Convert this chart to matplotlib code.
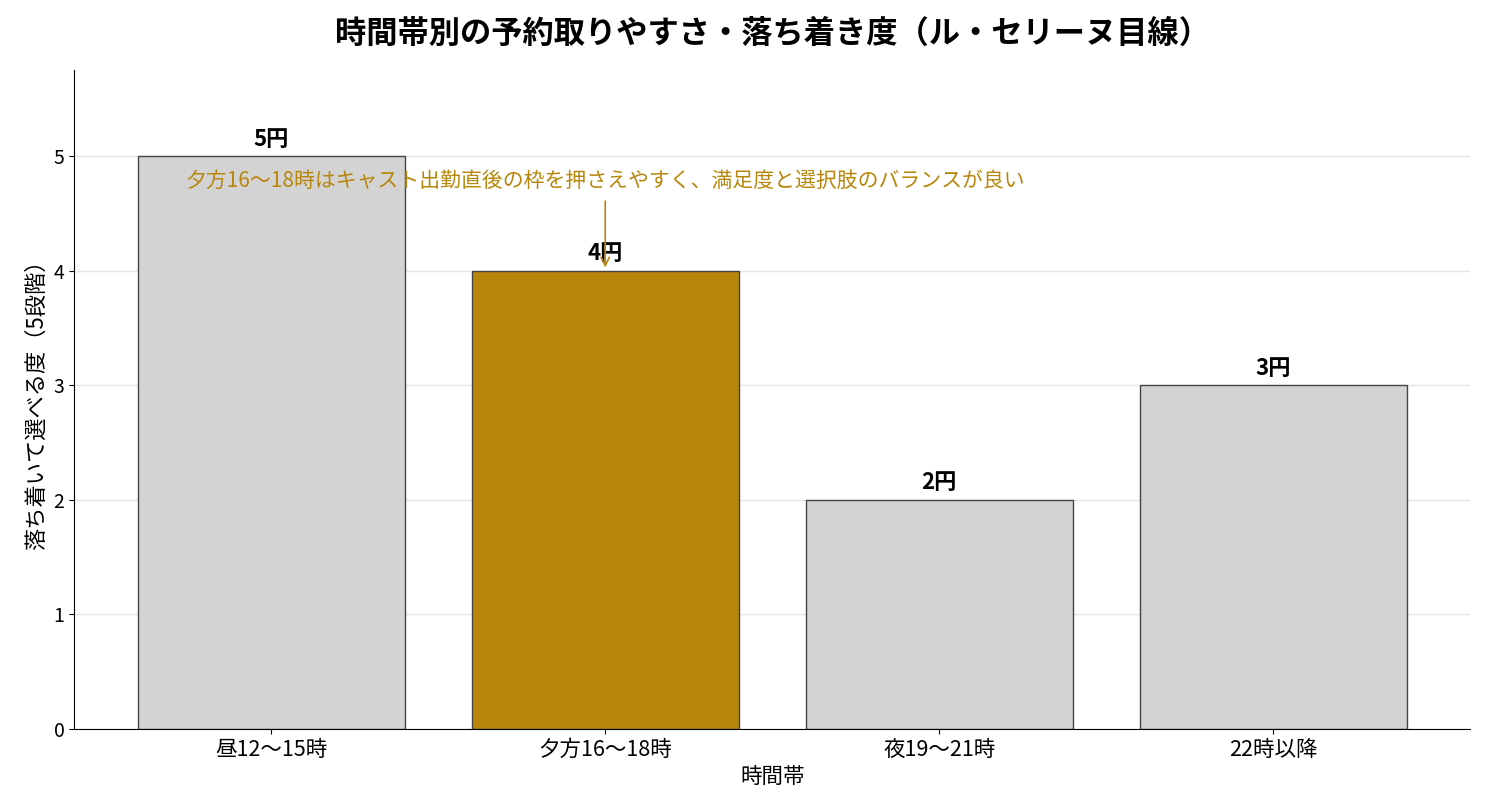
import matplotlib.pyplot as plt

plt.rcParams['font.family'] = ['Noto Sans CJK JP', 'DejaVu Sans']

# データ
時間帯 = ['昼12〜15時', '夕方16〜18時', '夜19〜21時', '22時以降']
スコア = [5, 4, 2, 3]
ラベル = ['5円', '4円', '2円', '3円']
強調 = 1
注記 = '夕方16〜18時はキャスト出勤直後の枠を押さえやすく、満足度と選択肢のバランスが良い'

fig, ax = plt.subplots(figsize=(14.85, 8.1), dpi=100)

colors = ['#b8860b' if i == 強調 else '#d3d3d3' for i in range(len(時間帯))]
bars = ax.bar(range(len(時間帯)), スコア, width=0.8, color=colors,
              edgecolor='#444444', linewidth=1.0, zorder=2)

for b, lab in zip(bars, ラベル):
    ax.text(b.get_x() + b.get_width() / 2, b.get_height() + 0.05, lab,
            ha='center', va='bottom', fontsize=16, fontweight='bold', zorder=4)

ax.annotate(注記, xy=(強調, スコア[強調] + 0.03), xytext=(強調, 4.79),
            ha='center', va='center', fontsize=15, color='#b8860b',
            arrowprops=dict(arrowstyle='->', color='#b8860b', lw=1.2,
                            shrinkA=5, shrinkB=0), zorder=5)

ax.set_xticks(range(len(時間帯)))
ax.set_xticklabels(時間帯, fontsize=15.5)
ax.tick_params(axis='y', labelsize=14)
ax.set_ylim(0, 5.75)
ax.set_yticks([0, 1, 2, 3, 4, 5])
ax.set_xlabel('時間帯', fontsize=15.5, labelpad=4)
ax.set_ylabel('落ち着いて選べる度（5段階）', fontsize=16)
ax.set_title('時間帯別の予約取りやすさ・落ち着き度（ル・セリーヌ目線）',
             fontsize=22.5, fontweight='bold', pad=20)

ax.grid(axis='y', color='#e5e5e5', linewidth=1, zorder=0)
ax.set_axisbelow(True)
ax.spines['top'].set_visible(False)
ax.spines['right'].set_visible(False)

fig.subplots_adjust(left=0.05, right=0.99, top=0.913, bottom=0.1)
fig.savefig('out.png', dpi=100)
